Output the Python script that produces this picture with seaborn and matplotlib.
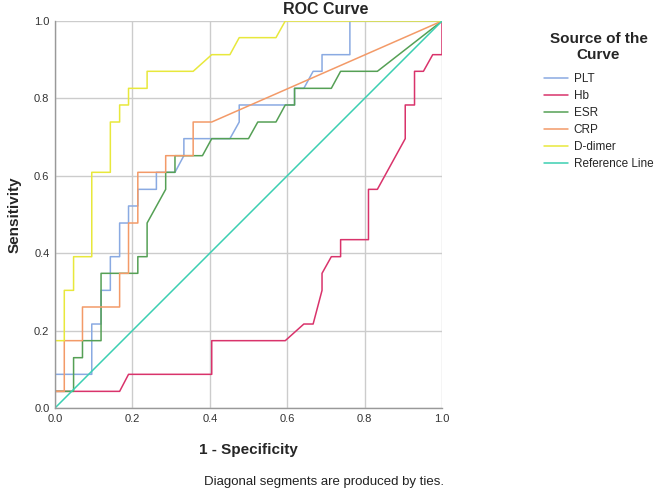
import pandas as pd
import matplotlib
matplotlib.use('Agg')
import matplotlib.pyplot as plt
import seaborn as sns

# ROC points (1 - specificity, sensitivity)
plt_fpr = [0, 0, 0.095, 0.095, 0.119, 0.119, 0.143, 0.143, 0.167, 0.167, 0.190, 0.190,
           0.214, 0.214, 0.262, 0.262, 0.310, 0.333, 0.333, 0.452, 0.476, 0.476, 0.619,
           0.619, 0.643, 0.667, 0.690, 0.690, 0.762, 0.762, 1.0]
plt_tpr = [0, 0.087, 0.087, 0.217, 0.217, 0.304, 0.304, 0.391, 0.391, 0.478, 0.478, 0.522,
           0.522, 0.565, 0.565, 0.609, 0.609, 0.652, 0.696, 0.696, 0.739, 0.783, 0.783,
           0.826, 0.826, 0.870, 0.870, 0.913, 0.913, 1.0, 1.0]

hb_fpr = [0, 0, 0.167, 0.190, 0.405, 0.405, 0.595, 0.643, 0.667, 0.690, 0.690, 0.714,
          0.738, 0.738, 0.810, 0.810, 0.833, 0.905, 0.905, 0.929, 0.929, 0.952, 0.976,
          1.0, 1.0]
hb_tpr = [0, 0.043, 0.043, 0.087, 0.087, 0.174, 0.174, 0.217, 0.217, 0.304, 0.348, 0.391,
          0.391, 0.435, 0.435, 0.565, 0.565, 0.696, 0.783, 0.783, 0.870, 0.870, 0.913,
          0.913, 1.0]

esr_fpr = [0, 0, 0.048, 0.048, 0.071, 0.071, 0.119, 0.119, 0.214, 0.214, 0.238, 0.238,
           0.286, 0.286, 0.310, 0.310, 0.381, 0.405, 0.500, 0.524, 0.571, 0.595, 0.619,
           0.619, 0.714, 0.738, 0.833, 1.0]
esr_tpr = [0, 0.043, 0.043, 0.130, 0.130, 0.174, 0.174, 0.348, 0.348, 0.391, 0.391, 0.478,
           0.565, 0.609, 0.609, 0.652, 0.652, 0.696, 0.696, 0.739, 0.739, 0.783, 0.783,
           0.826, 0.826, 0.870, 0.870, 1.0]

crp_fpr = [0, 0, 0.024, 0.024, 0.071, 0.071, 0.167, 0.167, 0.190, 0.190, 0.214, 0.214,
           0.286, 0.286, 0.357, 0.357, 0.405, 1.0]
crp_tpr = [0, 0.043, 0.043, 0.174, 0.174, 0.261, 0.261, 0.348, 0.348, 0.478, 0.478, 0.609,
           0.609, 0.652, 0.652, 0.739, 0.739, 1.0]

dd_fpr = [0, 0, 0.024, 0.024, 0.048, 0.048, 0.095, 0.095, 0.143, 0.143, 0.167, 0.167,
          0.190, 0.190, 0.238, 0.238, 0.357, 0.405, 0.452, 0.476, 0.571, 0.595, 1.0]
dd_tpr = [0, 0.174, 0.174, 0.304, 0.304, 0.391, 0.391, 0.609, 0.609, 0.739, 0.739, 0.783,
          0.783, 0.826, 0.826, 0.870, 0.870, 0.913, 0.913, 0.957, 0.957, 1.0, 1.0]

ref_fpr = [0, 1.0]
ref_tpr = [0, 1.0]

curves = ['PLT', 'Hb', 'ESR', 'CRP', 'D-dimer', 'Reference Line']
colors = ['#8aaae2', '#d9336b', '#55a055', '#f39a68', '#e8e83c', '#3ccfb2']
ticks = [0.0, 0.2, 0.4, 0.6, 0.8, 1.0]
tick_labels = ['0.0', '0.2', '0.4', '0.6', '0.8', '1.0']

# Build one long table for seaborn
parts = []
for name, fx, ty in zip(curves,
                        [plt_fpr, hb_fpr, esr_fpr, crp_fpr, dd_fpr, ref_fpr],
                        [plt_tpr, hb_tpr, esr_tpr, crp_tpr, dd_tpr, ref_tpr]):
    parts.append(pd.DataFrame({'fpr': fx, 'tpr': ty, 'curve': name}))
df = pd.concat(parts, ignore_index=True)

sns.set_style('white')
plt.rcParams['font.family'] = ['Liberation Sans', 'DejaVu Sans']

fig = plt.figure(figsize=(6.61, 4.96), dpi=100)
ax = fig.add_axes([55 / 661, 1 - 408 / 496, 387 / 661, 387 / 496])

sns.lineplot(data=df, x='fpr', y='tpr', hue='curve', hue_order=curves,
             palette=dict(zip(curves, colors)), estimator=None, sort=False,
             units='curve', linewidth=1.1, ax=ax)

ax.set_xlim(0, 1)
ax.set_ylim(0, 1)
ax.set_xticks(ticks)
ax.set_xticklabels(tick_labels)
ax.set_yticks(ticks)
ax.set_yticklabels(tick_labels)
ax.tick_params(length=0, labelsize=8, labelcolor='#333333', pad=4)
ax.grid(True, color='#cccccc', linewidth=1)
ax.set_axisbelow(True)
for side in ['top', 'right']:
    ax.spines[side].set_visible(False)
for side in ['left', 'bottom']:
    ax.spines[side].set_color('#999999')
    ax.spines[side].set_linewidth(1)

ax.set_xlabel('1 - Specificity', fontsize=11, fontweight='bold', labelpad=14)
ax.set_ylabel('Sensitivity', fontsize=11, fontweight='bold', labelpad=9)
fig.text(326 / 661, 1 - 9 / 496, 'ROC Curve', ha='center', va='center',
         fontsize=11.5, fontweight='bold')
fig.text(324 / 661, 1 - 482 / 496, 'Diagonal segments are produced by ties.',
         ha='center', va='center', fontsize=9.5, color='#222222')

handles, labels = ax.get_legend_handles_labels()
leg = ax.legend(handles, labels, title='Source of the\nCurve', loc='upper left',
                bbox_to_anchor=(533 / 661, 1 - 21 / 496), bbox_transform=fig.transFigure,
                frameon=False, fontsize=8.5, title_fontproperties={'weight': 'bold', 'size': 11},
                handlelength=2.1, handletextpad=0.45, labelspacing=0.42, alignment='center')
leg.get_title().set_multialignment('center')
# a little more room between the legend title and the entries
leg._legend_box.sep = 8

fig.savefig('out.png', dpi=100)
